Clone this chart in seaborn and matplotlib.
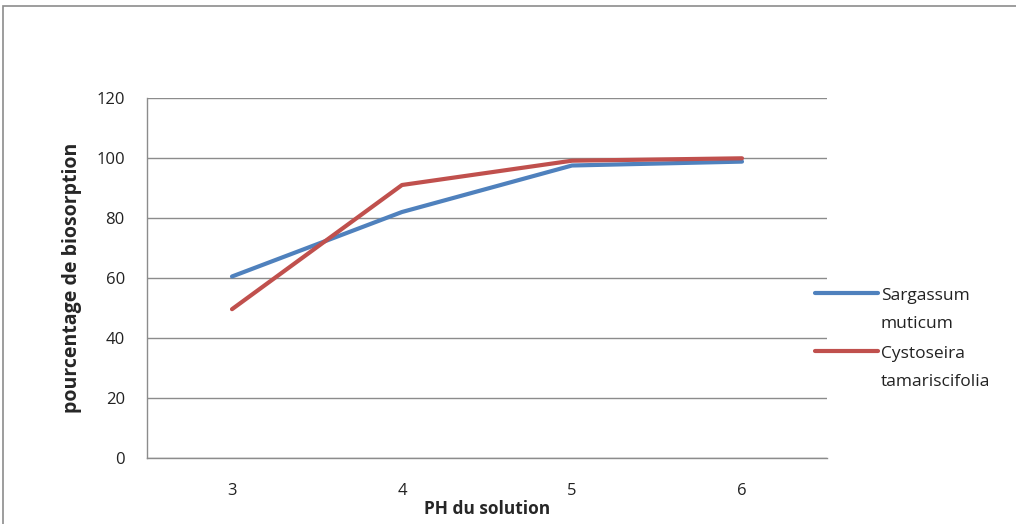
import matplotlib
matplotlib.use("Agg")
import matplotlib.pyplot as plt
import seaborn as sns
import pandas as pd
import numpy as np
from matplotlib.patches import Rectangle
from matplotlib.lines import Line2D
from matplotlib.legend_handler import HandlerLine2D

ph = ["3", "4", "5", "6"]
sargassum = [60.5, 82, 97.5, 98.8]
cystoseira = [49.6, 91, 99.1, 99.9]
series_names = ["Sargassum\nmuticum", "Cystoseira\ntamariscifolia"]
colors = ["#4F81BD", "#C0504D"]

df = pd.DataFrame({
    "ph": ph * 2,
    "val": sargassum + cystoseira,
    "serie": [series_names[0]] * 4 + [series_names[1]] * 4,
})

sns.set_style("white")
plt.rcParams["font.family"] = ["Open Sans", "DejaVu Sans"]

fig = plt.figure(figsize=(10.16, 5.24), dpi=100)
W, H = 1016, 524
ax = fig.add_axes([147 / W, (H - 458) / H, 680 / W, 360 / H])

sns.lineplot(data=df, x="ph", y="val", hue="serie", palette=colors,
             linewidth=3, ax=ax, legend=False, sort=False)

ax.set_xlim(-0.5, 3.5)
ax.set_ylim(0, 120)
ax.set_yticks(range(0, 121, 20))
ax.yaxis.grid(True, color="#8c8c8c", linewidth=1)
ax.set_axisbelow(True)
for s in ["top", "right"]:
    ax.spines[s].set_visible(False)
for s in ["left", "bottom"]:
    ax.spines[s].set_color("#8c8c8c")
    ax.spines[s].set_linewidth(1)
ax.tick_params(axis="both", length=0, labelsize=12, colors="#222222")
ax.tick_params(axis="y", pad=16)
ax.tick_params(axis="x", pad=18)
ax.set_xlabel("PH du solution", fontsize=12.5, fontweight="bold", labelpad=1)
ax.set_ylabel("pourcentage de biosorption", fontsize=14, fontweight="bold", labelpad=10)


class UpperHandler(HandlerLine2D):
    def create_artists(self, legend, orig_handle, xdescent, ydescent,
                       width, height, fontsize, trans):
        arts = super().create_artists(legend, orig_handle, xdescent, ydescent,
                                      width, height, fontsize, trans)
        for a in arts:
            a.set_ydata(np.asarray(a.get_ydata()) + 12)
        return arts


handles = [Line2D([0], [0], color=c, linewidth=3) for c in colors]
leg = ax.legend(handles, series_names, loc="center left",
                bbox_to_anchor=((815 - 147) / 680, (458 - 339) / 360),
                frameon=False, fontsize=12.5, handlelength=3.6, handletextpad=0.2,
                labelspacing=0.8, borderaxespad=0, borderpad=0,
                handler_map={Line2D: UpperHandler()})
for t in leg.get_texts():
    t.set_linespacing(2.0)
    t.set_color("#222222")

fig.patches.append(Rectangle((3 / W, -0.05), 1.1, (H - 6) / H + 0.05,
                             transform=fig.transFigure, fill=False,
                             edgecolor="#8c8c8c", linewidth=1.2))

fig.savefig("out.png", dpi=100)
